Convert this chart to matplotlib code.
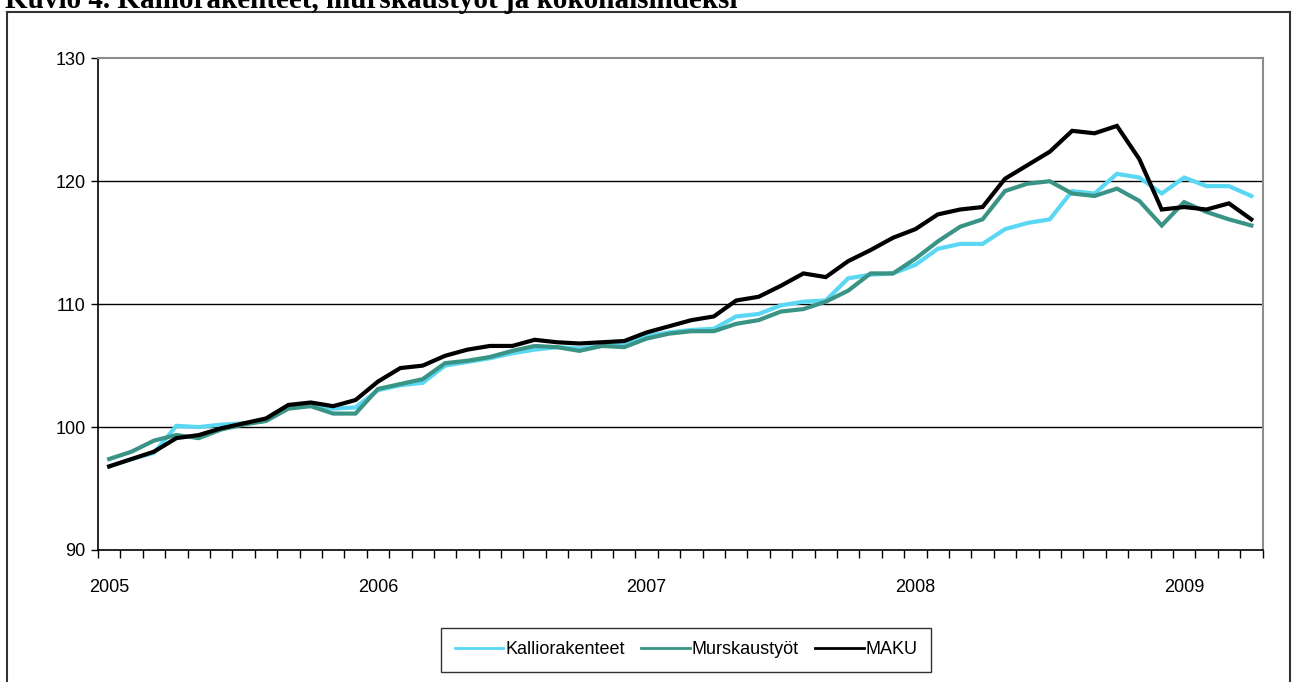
import matplotlib.pyplot as plt
from matplotlib.lines import Line2D
import numpy as np

plt.rcParams['font.family'] = ['Liberation Sans', 'DejaVu Sans']

# monthly index values, Jan 2005 - Apr 2009
years = ['2005', '2006', '2007', '2008', '2009']
kallio = [96.8, 97.4, 97.9, 100.1, 100.0, 100.2, 100.3, 100.5, 101.6, 101.8,
          101.5, 101.6, 103.0, 103.4, 103.6, 105.0, 105.3, 105.6, 106.0, 106.3,
          106.5, 106.4, 106.6, 106.7, 107.4, 107.7, 107.9, 108.0, 109.0, 109.2,
          109.9, 110.2, 110.3, 112.1, 112.4, 112.5, 113.2, 114.5, 114.9, 114.9,
          116.1, 116.6, 116.9, 119.2, 119.0, 120.6, 120.3, 119.0, 120.3, 119.6,
          119.6, 118.8]
murskaus = [97.4, 98.0, 98.9, 99.35, 99.1, 99.8, 100.2, 100.5, 101.5, 101.7,
            101.1, 101.1, 103.1, 103.5, 103.9, 105.2, 105.4, 105.7, 106.2, 106.6,
            106.5, 106.2, 106.6, 106.5, 107.2, 107.6, 107.8, 107.8, 108.4, 108.7,
            109.4, 109.6, 110.2, 111.1, 112.5, 112.5, 113.7, 115.1, 116.3, 116.9,
            119.2, 119.8, 120.0, 119.0, 118.8, 119.4, 118.4, 116.4, 118.3, 117.5,
            116.9, 116.4]
maku = [96.8, 97.4, 98.0, 99.1, 99.35, 99.9, 100.3, 100.7, 101.8, 102.0,
        101.7, 102.2, 103.7, 104.8, 105.0, 105.8, 106.3, 106.6, 106.6, 107.1,
        106.9, 106.8, 106.9, 107.0, 107.7, 108.2, 108.7, 109.0, 110.3, 110.6,
        111.5, 112.5, 112.2, 113.5, 114.4, 115.4, 116.1, 117.3, 117.7, 117.9,
        120.2, 121.3, 122.4, 124.1, 123.9, 124.5, 121.8, 117.7, 117.9, 117.7,
        118.2, 116.9]

names = ['Kalliorakenteet', 'Murskaustyöt', 'MAKU']
colors = ['#5ad8f3', '#3a9486', '#000000']

W, H = 1293, 682
fig = plt.figure(figsize=(W / 100, H / 100), dpi=100)
ax = fig.add_axes([98 / W, 1 - 550 / H, (1262.5 - 98) / W, (550 - 58.3) / H])

x = np.arange(len(maku))
for vals, c in zip([kallio, murskaus, maku], colors):
    ax.plot(x, vals, color=c, lw=3.0, solid_joinstyle='miter', zorder=3)

ax.set_xlim(-0.5, len(maku) - 0.5)
ax.set_ylim(90, 130)
ax.set_yticks([90, 100, 110, 120, 130])
for yv in [100, 110, 120]:
    ax.axhline(yv, color='black', lw=1.0, zorder=1)

ax.set_xticks(np.arange(0, len(maku), 12))
ax.set_xticklabels(years)
ax.set_xticks(np.arange(-0.5, len(maku), 1), minor=True)
ax.tick_params(axis='x', which='major', length=0, pad=21, labelsize=13)
ax.tick_params(axis='x', which='minor', length=6, width=1.0, direction='out')
ax.tick_params(axis='y', length=5, width=1.0, pad=4, labelsize=13)

for s in ['top', 'right']:
    ax.spines[s].set_color('#8c8c8c')
    ax.spines[s].set_linewidth(1.5)
for s in ['left', 'bottom']:
    ax.spines[s].set_color('black')
    ax.spines[s].set_linewidth(1.2)

handles = [Line2D([], [], color=c, lw=2.0) for c in colors]
leg = fig.legend(handles, names, loc='center', bbox_to_anchor=(686 / W, 1 - 650 / H),
                 ncol=3, fontsize=13, frameon=True, fancybox=False,
                 handlelength=2.7, handletextpad=0.1, columnspacing=0.9,
                 borderpad=0.75, borderaxespad=0, edgecolor='black')
leg.get_frame().set_linewidth(1.0)

# outer chart frame
fx0, fx1, fy = 7 / W, 1290 / W, 1 - 12 / H
for xs, ys in [([fx0, fx1], [fy, fy]), ([fx0, fx0], [fy, -0.1]), ([fx1, fx1], [fy, -0.1])]:
    fig.add_artist(Line2D(xs, ys, transform=fig.transFigure, color='#333333', lw=1.5))

fig.text(5 / W, 1 - 8 / H, 'Kuvio 4. Kalliorakenteet, murskaustyöt ja kokonaisindeksi',
         family='Liberation Serif', fontsize=21, fontweight='bold', va='baseline', ha='left')

fig.savefig('out.png', dpi=100)
